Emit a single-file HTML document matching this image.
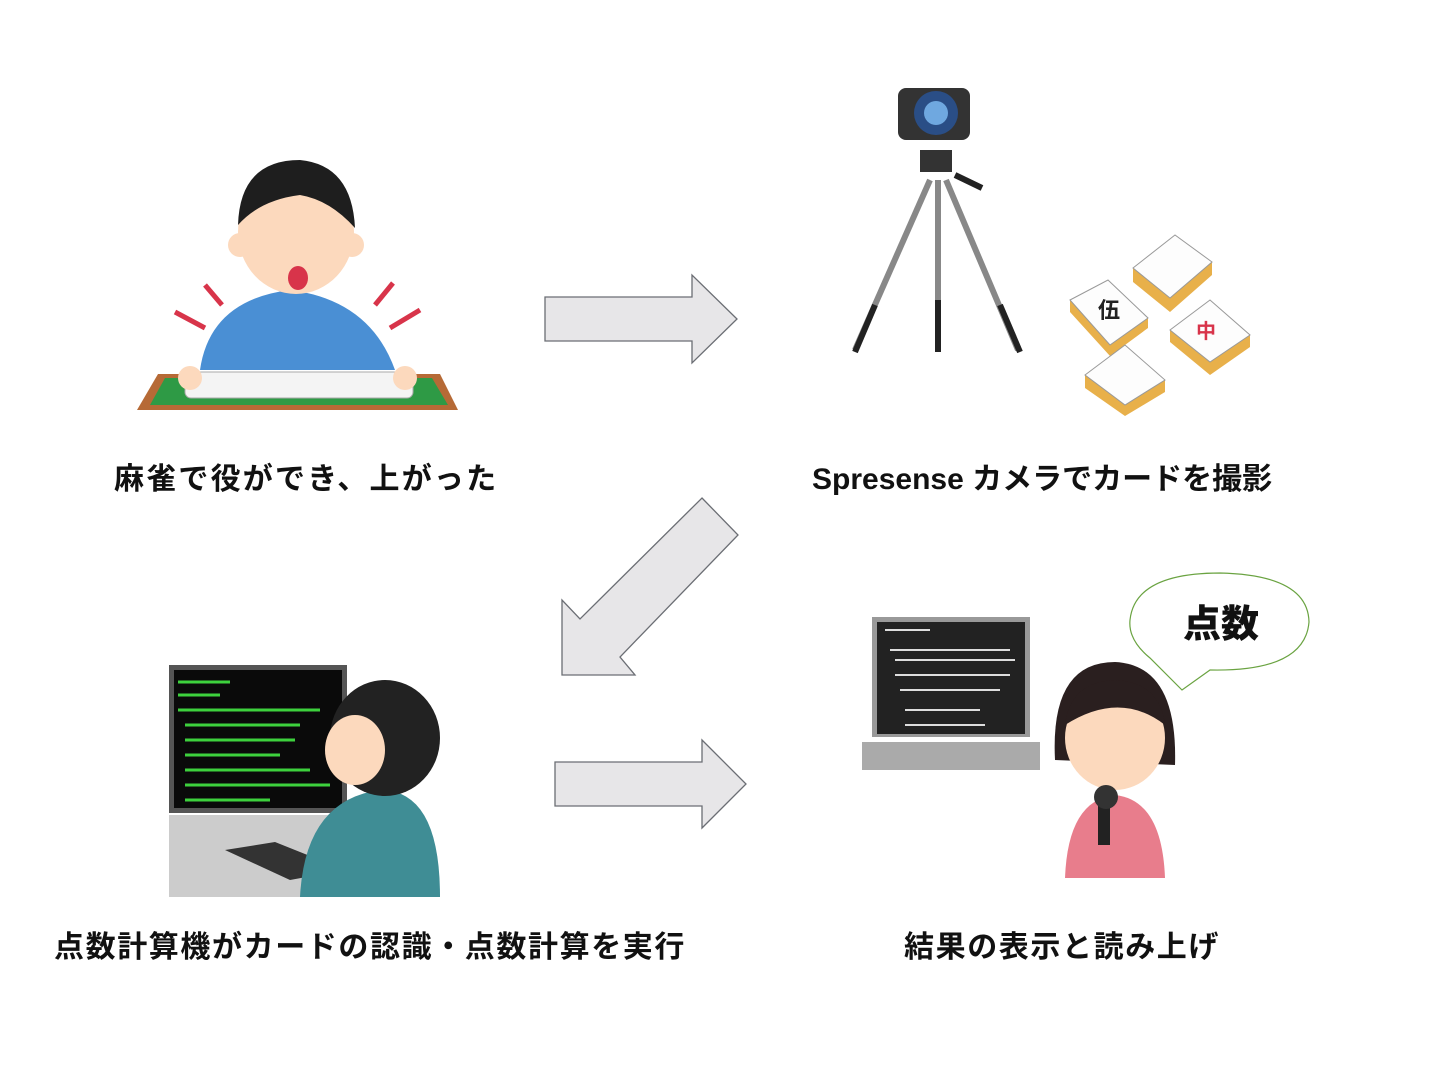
<!DOCTYPE html>
<html><head><meta charset="utf-8"><style>
body{margin:0;width:1440px;height:1080px;background:#fff;overflow:hidden;position:relative;font-family:"Liberation Sans","Noto Sans CJK JP",sans-serif}
.l{position:absolute;font-size:30px;font-weight:bold;color:#111;letter-spacing:1.6px;white-space:nowrap;line-height:1}
</style></head><body>
<svg width="1440" height="1080" style="position:absolute;left:0;top:0">
<g fill="#e7e6e8" stroke="#6b6e74" stroke-width="1.3">
<polygon points="545,297 692,297 692,275 737,319 692,363 692,341 545,341"/>
<polygon points="702,498 738,535 620,657 635,675 562,675 562,600 580,619"/>
<polygon points="555,762 702,762 702,740 746,784 702,828 702,806 555,806"/>
</g>
<polygon points="137,410 158,374 440,374 458,410" fill="#b66a36"/>
<polygon points="150,405 165,378 432,378 448,405" fill="#2e9a45"/>
<path d="M200,370 Q210,300 290,290 Q370,300 395,370 Z" fill="#4a8fd4"/>
<ellipse cx="296" cy="232" rx="58" ry="62" fill="#fcd9bd"/>
<circle cx="240" cy="245" r="12" fill="#fcd9bd"/><circle cx="352" cy="245" r="12" fill="#fcd9bd"/>
<path d="M238,225 Q240,160 300,160 Q352,165 355,228 Q330,200 300,195 Q260,200 238,225Z" fill="#1e1e1e"/>
<ellipse cx="298" cy="278" rx="10" ry="12" fill="#d8344a"/>
<rect x="185" y="372" width="228" height="26" rx="6" fill="#f4f4f4" stroke="#aaa"/>
<circle cx="190" cy="378" r="12" fill="#fcd9bd"/><circle cx="405" cy="378" r="12" fill="#fcd9bd"/>
<g stroke="#d8344a" stroke-width="5"><line x1="175" y1="312" x2="205" y2="328"/><line x1="205" y1="285" x2="222" y2="305"/><line x1="375" y1="305" x2="393" y2="283"/><line x1="390" y1="328" x2="420" y2="310"/></g>
<rect x="898" y="88" width="72" height="52" rx="8" fill="#333"/>
<circle cx="936" cy="113" r="22" fill="#2a4e86"/><circle cx="936" cy="113" r="12" fill="#6fa8e0"/>
<rect x="920" y="150" width="32" height="22" fill="#333"/>
<g stroke="#888" stroke-width="6"><line x1="930" y1="180" x2="855" y2="350"/><line x1="938" y1="180" x2="938" y2="350"/><line x1="946" y1="180" x2="1018" y2="350"/></g>
<g stroke="#222" stroke-width="6"><line x1="875" y1="305" x2="855" y2="352"/><line x1="938" y1="300" x2="938" y2="352"/><line x1="1000" y1="305" x2="1020" y2="352"/><line x1="955" y1="175" x2="982" y2="188"/></g>
<g fill="#e8b04a"><polygon points="1133,268 1170,298 1212,262 1212,275 1170,312 1133,282"/><polygon points="1085,375 1125,405 1165,380 1165,392 1125,416 1085,388"/><polygon points="1170,330 1210,362 1250,335 1250,347 1210,375 1170,342"/><polygon points="1070,300 1110,345 1148,318 1148,328 1110,356 1070,312"/></g>
<g fill="#fdfdfd" stroke="#999"><polygon points="1133,268 1175,235 1212,262 1170,298"/><polygon points="1070,300 1108,280 1148,318 1110,345"/><polygon points="1170,330 1210,300 1250,335 1210,362"/><polygon points="1085,375 1125,345 1165,380 1125,405"/></g>
<text x="1098" y="318" font-size="22" font-weight="bold" fill="#222" font-family="Noto Sans CJK JP">伍</text>
<text x="1196" y="338" font-size="20" font-weight="bold" fill="#d8344a" font-family="Noto Sans CJK JP">中</text>
<rect x="169" y="665" width="178" height="148" fill="#555"/><rect x="174" y="670" width="168" height="138" fill="#0a0a0a"/>
<g stroke="#3dd13d" stroke-width="3"><line x1="178" y1="682" x2="230" y2="682"/><line x1="178" y1="695" x2="220" y2="695"/><line x1="178" y1="710" x2="320" y2="710"/><line x1="185" y1="725" x2="300" y2="725"/><line x1="185" y1="740" x2="295" y2="740"/><line x1="185" y1="755" x2="280" y2="755"/><line x1="185" y1="770" x2="310" y2="770"/><line x1="185" y1="785" x2="330" y2="785"/><line x1="185" y1="800" x2="270" y2="800"/></g>
<rect x="169" y="815" width="200" height="82" fill="#ccc"/>
<polygon points="225,850 275,842 345,870 290,880" fill="#333"/>
<path d="M300,897 Q305,800 380,790 Q440,790 440,897Z" fill="#3f8d95"/>
<ellipse cx="385" cy="738" rx="55" ry="58" fill="#222"/>
<ellipse cx="355" cy="750" rx="30" ry="35" fill="#fcd9bd"/>
<rect x="872" y="617" width="158" height="120" fill="#999"/><rect x="877" y="622" width="148" height="112" fill="#222"/>
<polygon points="862,742 1040,742 1040,770 862,770" fill="#aaa"/>
<g stroke="#ddd" stroke-width="2"><line x1="885" y1="630" x2="930" y2="630"/><line x1="890" y1="650" x2="1010" y2="650"/><line x1="895" y1="660" x2="1015" y2="660"/><line x1="895" y1="675" x2="1010" y2="675"/><line x1="900" y1="690" x2="1000" y2="690"/><line x1="905" y1="710" x2="980" y2="710"/><line x1="905" y1="725" x2="985" y2="725"/></g>
<path d="M1055,760 Q1050,662 1115,662 Q1178,665 1175,765Z" fill="#2a1f1f"/>
<path d="M1065,878 Q1068,800 1115,795 Q1162,800 1165,878Z" fill="#e87d8c"/>
<ellipse cx="1115" cy="738" rx="50" ry="52" fill="#fcd9bd"/>
<path d="M1065,725 Q1070,682 1115,680 Q1160,682 1165,725 Q1120,690 1065,725Z" fill="#2a1f1f"/>
<rect x="1098" y="795" width="12" height="50" fill="#222"/><circle cx="1106" cy="797" r="12" fill="#333"/>
<path d="M1150,658 Q1128,640 1130,620 Q1135,573 1220,573 Q1308,575 1309,622 Q1305,672 1210,670 L1182,690 Z" fill="#fff" stroke="#6aa341" stroke-width="1.2"/>
</svg>
<div class="l" style="left:1183px;top:606px;font-size:38px;font-weight:900;letter-spacing:0">点数</div>
<div class="l" style="left:114px;top:465px;letter-spacing:2.2px">麻雀で役ができ、上がった</div>
<div class="l" style="left:812px;top:465px;letter-spacing:0">Spresense カメラでカードを撮影</div>
<div class="l" style="left:54px;top:933px">点数計算機がカードの認識・点数計算を実行</div>
<div class="l" style="left:904px;top:933px">結果の表示と読み上げ</div>
</body></html>
